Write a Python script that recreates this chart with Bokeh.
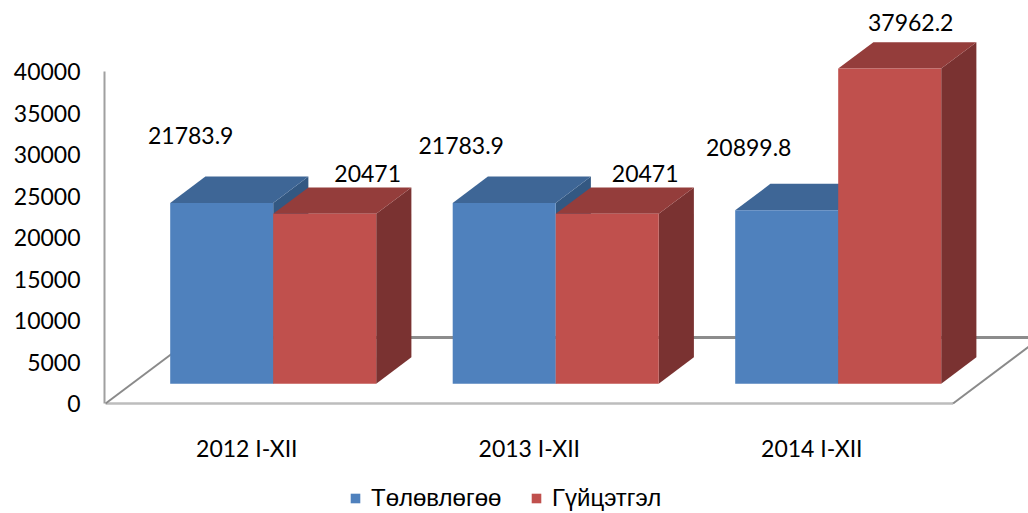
from bokeh.plotting import figure
from bokeh.models import Legend, LegendItem, FixedTicker, Range1d
from bokeh.core.properties import value
from bokeh.embed import file_html
from bokeh.resources import INLINE

# ---------------- data ----------------
categories = ["2012 I-XII", "2013 I-XII", "2014 I-XII"]
plan = [21783.9, 21783.9, 20899.8]          # Төлөвлөгөө
actual = [20471.0, 20471.0, 37962.2]        # Гүйцэтгэл
series_names = ["Төлөвлөгөө", "Гүйцэтгэл"]
y_ticks = [0, 5000, 10000, 15000, 20000, 25000, 30000, 35000, 40000]

# ---------------- style / geometry ----------------
W, H = 1028, 513
LEFT = 104
PX_X = 282.5          # pixels per category step
PX_Y = 0.0083         # pixels per value unit
X0_PAGE = 246.3       # figure-x of category 0 (front plane)
Y0_PAGE = 403         # figure-y of value 0 (front plane)

x_start = (LEFT - X0_PAGE) / PX_X
x_end = x_start + (W - LEFT) / PX_X
y_end = Y0_PAGE / PX_Y
y_start = y_end - H / PX_Y

DX = 88 / PX_X        # floor depth (x)
DY = 66 / PX_Y        # floor depth (y)
F0, F1 = 0.3, 0.7     # bar depth band inside floor
BW = 0.3646           # bar width (category units)

front_cols = ["#4F81BD", "#C0504D"]
top_cols = ["#3E6696", "#943D3B"]
side_cols = ["#335882", "#7A3231"]

# label nudges (screen px: dx right, dy down) per series/category
label_dx = [[-31, -43, -38], [43, 38, 21]]
label_dy = [[-67, -57, -63], [-40, -40, -46]]

FONT = "Lato"
FS = "23px"

p = figure(width=W, height=H, output_backend="svg", toolbar_location=None,
           x_range=Range1d(x_start, x_end), y_range=Range1d(y_start, y_end),
           min_border_left=LEFT, min_border_right=0, min_border_top=0, min_border_bottom=0)
p.outline_line_color = None
p.grid.visible = False
p.xaxis.visible = False
p.background_fill_color = "white"
p.border_fill_color = "white"

ax = p.yaxis[0]
ax.ticker = FixedTicker(ticks=y_ticks)
ax.bounds = (0, 40000)
ax.axis_line_color = "#A0A0A0"
ax.axis_line_width = 2
ax.major_tick_line_color = None
ax.minor_tick_line_color = None
ax.major_tick_out = 0
ax.major_tick_in = 0
ax.major_label_standoff = 24
ax.major_label_text_font = FONT
ax.major_label_text_font_size = FS
ax.major_label_text_color = "black"

# ---------------- floor ----------------
n = len(categories)
fl, fr = -0.5, n - 0.5
p.line([fl, fr], [0, 0], line_color="#BDBDBD", line_width=2.5)
p.line([fl, fl + DX], [0, DY], line_color="#8A8A8A", line_width=2)
p.line([fr, fr + DX], [0, DY], line_color="#8A8A8A", line_width=2)
p.line([fl + DX, fr + DX], [DY, DY], line_color="#8C8C8C", line_width=3)

# ---------------- bars ----------------
ox0, oy0 = F0 * DX, F0 * DY
ox1, oy1 = F1 * DX, F1 * DY
front_renderers = []
for s, vals in enumerate([plan, actual]):
    fxs, fys, txs, tys, sxs, sys_ = [], [], [], [], [], []
    for i, v in enumerate(vals):
        x0 = i - BW + s * BW
        x1 = x0 + BW
        fxs.append([x0 + ox0, x1 + ox0, x1 + ox0, x0 + ox0])
        fys.append([oy0, oy0, oy0 + v, oy0 + v])
        txs.append([x0 + ox0, x1 + ox0, x1 + ox1, x0 + ox1])
        tys.append([oy0 + v, oy0 + v, oy1 + v, oy1 + v])
        sxs.append([x1 + ox0, x1 + ox1, x1 + ox1, x1 + ox0])
        sys_.append([oy0, oy1, oy1 + v, oy0 + v])
    p.patches(sxs, sys_, fill_color=side_cols[s], line_color=None)
    p.patches(txs, tys, fill_color=top_cols[s], line_color=None)
    r = p.patches(fxs, fys, fill_color=front_cols[s], line_color=None)
    front_renderers.append(r)

# ---------------- value labels ----------------
lx, ly, lt = [], [], []
for s, vals in enumerate([plan, actual]):
    for i, v in enumerate(vals):
        cx = i - BW + s * BW + BW / 2 + ox0
        top = oy0 + v
        lx.append(cx + label_dx[s][i] / PX_X)
        ly.append(top - label_dy[s][i] / PX_Y)
        lt.append(f"{v:g}")
p.text(lx, ly, text=lt, text_font=value(FONT), text_font_size=FS, text_color="black",
       text_align="center", text_baseline="middle")

# ---------------- category labels ----------------
cat_y = -(447 - 403) / PX_Y
p.text(list(range(n)), [cat_y] * n, text=categories, text_font=value(FONT), text_font_size=FS,
       text_color="black", text_align="center", text_baseline="middle")

# ---------------- legend ----------------
leg_x = [349 - LEFT, 530 - LEFT]
for s in range(2):
    leg = Legend(items=[LegendItem(label=series_names[s], renderers=[front_renderers[s]])],
                 location=(leg_x[s], 1), orientation="horizontal",
                 glyph_width=12, glyph_height=12, label_standoff=10, label_height=12,
                 padding=0, margin=0, spacing=0, border_line_color=None,
                 background_fill_alpha=0, label_text_font="Liberation Sans",
                 label_text_font_size="24px", label_text_color="black")
    p.add_layout(leg)

open("out.html", "w").write(file_html(p, INLINE))
